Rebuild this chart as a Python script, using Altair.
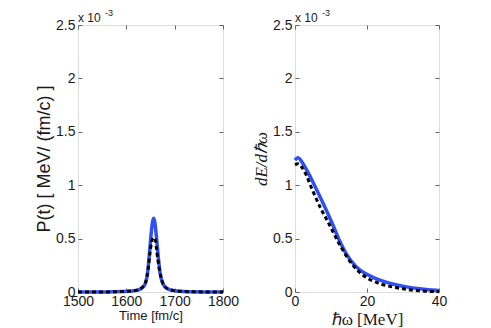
import altair as alt
import pandas as pd

# ---- data (values of y in units of 1e-3) ----
t_blue = [1500, 1560, 1590, 1613, 1625, 1633, 1639, 1644, 1648, 1651, 1654, 1656.6, 1659, 1662, 1666, 1670, 1676, 1685, 1700, 1720, 1760, 1800]
p_blue = [0, 0.001, 0.004, 0.01, 0.02, 0.04, 0.075, 0.18, 0.37, 0.53, 0.65, 0.69, 0.65, 0.53, 0.33, 0.175, 0.075, 0.03, 0.012, 0.005, 0.001, 0]
t_black = [1500, 1560, 1590, 1613, 1625, 1633, 1640, 1645, 1649, 1652, 1655, 1657, 1660, 1663, 1668, 1674, 1680, 1688, 1700, 1720, 1760, 1800]
p_black = [0, 0.001, 0.004, 0.011, 0.022, 0.045, 0.095, 0.21, 0.37, 0.46, 0.505, 0.51, 0.49, 0.38, 0.22, 0.1, 0.05, 0.025, 0.012, 0.005, 0.001, 0]

e_blue = [0, 0.8, 2.6, 5.4, 8.1, 10.5, 12.5, 14.2, 16.9, 19.7, 22.5, 25.3, 28, 31, 34, 37, 40]
s_blue = [1.235, 1.258, 1.18, 1.0, 0.81, 0.63, 0.47, 0.36, 0.24, 0.17, 0.125, 0.092, 0.068, 0.048, 0.032, 0.022, 0.015]
e_black = [0, 0.8, 2.6, 4.9, 7.2, 9.1, 11.9, 14.6, 17.9, 20.6, 23.4, 26.7, 30, 33, 36, 40]
s_black = [1.19, 1.2, 1.13, 0.95, 0.78, 0.66, 0.475, 0.32, 0.185, 0.12, 0.08, 0.05, 0.03, 0.016, 0.008, 0.003]

y_ticks = [0, 0.5, 1, 1.5, 2, 2.5]
time_ticks = [1500, 1600, 1700, 1800]
omega_ticks = [0, 20, 40]
scale_text = ["x 10"]
scale_exp = ["-3"]

BLUE = "#2f4ff2"
GREY = "#666666"
TXT = "#1a1a1a"
H = 267
TICK = 4


def panel(xb, yb, xk, yk, xdom, xticks, width, xtitle, xfont, xsize, xty, ytitle, yfont, ysize, ystyle):
    blue_df = pd.DataFrame({"x": xb, "y": yb})
    black_df = pd.DataFrame({"x": xk, "y": yk})
    xs = alt.Scale(domain=xdom, nice=False, zero=False)
    ys = alt.Scale(domain=[0, 2.5], nice=False)

    x_main = alt.Axis(orient="bottom", values=xticks, format="d", offset=-TICK, tickSize=TICK,
                      tickColor=GREY, domain=False, grid=False, labelFlush=False, labelPadding=2,
                      labelFont="Liberation Sans", labelFontSize=14, labelColor=TXT,
                      title=xtitle, titleFont=xfont, titleFontSize=xsize, titleFontWeight="normal",
                      titleColor=TXT, titleX=width / 2, titleY=xty, titleBaseline="middle",
                      titleAlign="center")
    y_main = alt.Axis(orient="left", values=y_ticks, format="~g", offset=-TICK, tickSize=TICK,
                      tickColor=GREY, domain=False, grid=False, labelPadding=3,
                      labelFont="Liberation Sans", labelFontSize=14, labelColor=TXT,
                      labelBaseline="middle",
                      title=ytitle, titleFont=yfont, titleFontSize=ysize, titleFontWeight="normal",
                      titleFontStyle=ystyle, titleColor=TXT, titleX=-38, titleY=H / 2,
                      titleBaseline="middle", titleAlign="center", titleAngle=270)
    x_top = alt.Axis(orient="top", values=xticks, offset=-TICK, tickSize=TICK, tickColor=GREY,
                     labels=False, domain=False, grid=False, title=None)
    y_right = alt.Axis(orient="right", values=y_ticks, offset=-TICK, tickSize=TICK, tickColor=GREY,
                       labels=False, domain=False, grid=False, title=None)

    blue = alt.Chart(blue_df).mark_line(color=BLUE, strokeWidth=3.5, interpolate="monotone").encode(
        x=alt.X("x:Q", scale=xs, axis=x_main),
        y=alt.Y("y:Q", scale=ys, axis=y_main),
    )
    black = alt.Chart(black_df).mark_line(color="black", strokeWidth=3, strokeDash=[4, 3],
                                          interpolate="monotone").encode(
        x=alt.X("x:Q", scale=xs, axis=x_top),
        y=alt.Y("y:Q", scale=ys, axis=y_right),
    )
    t1 = alt.Chart(pd.DataFrame({"t": scale_text})).mark_text(
        align="left", baseline="alphabetic", font="Liberation Sans", fontSize=12, color=TXT
    ).encode(text="t:N", x=alt.value(0), y=alt.value(-3))
    t2 = alt.Chart(pd.DataFrame({"t": scale_exp})).mark_text(
        align="left", baseline="top", font="Liberation Sans", fontSize=9, color=TXT
    ).encode(text="t:N", x=alt.value(27), y=alt.value(-16))

    return alt.layer(blue, black, t1, t2).resolve_axis(x="independent", y="independent").properties(
        width=width, height=H)


left = panel(t_blue, p_blue, t_black, p_black, [1500, 1800], time_ticks, 145,
             "Time [fm/c]", "Liberation Sans", 13, 27,
             "P(t)  [ MeV/ (fm/c) ]", "Liberation Sans", 18, "normal")
right = panel(e_blue, s_blue, e_black, s_black, [0, 40], omega_ticks, 144,
              "ℏω  [MeV]", "Liberation Serif", 17, 31,
              "dE/dℏω", "Liberation Serif", 17, "italic")

chart = alt.hconcat(left, right, spacing=72, bounds="flush").properties(
    padding={"left": 26, "top": 0, "right": 0, "bottom": 0}
).configure_view(stroke=GREY, strokeWidth=1).configure(background="white")

chart.save("out.html", embed_options={"renderer": "svg", "actions": False})
